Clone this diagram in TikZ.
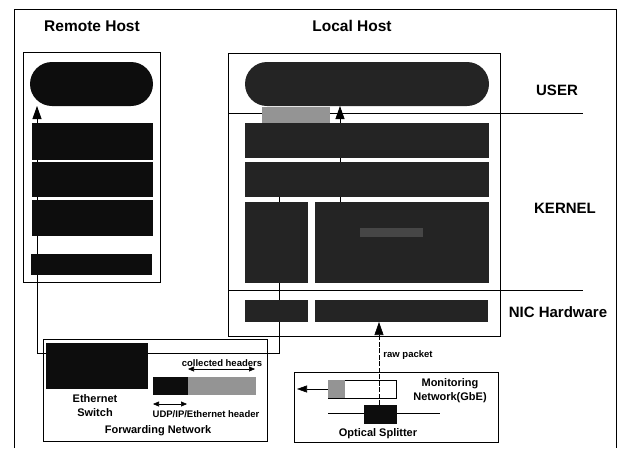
\documentclass[tikz,border=0pt]{standalone}
\usepackage{fontspec}
\setmainfont{Liberation Sans}
\usetikzlibrary{arrows.meta,shapes.misc,backgrounds}
\definecolor{blk}{gray}{0.05}
\definecolor{dk}{gray}{0.14}
\definecolor{md}{gray}{0.58}
\tikzset{
  blk/.style={rectangle,fill=blk,draw=none,inner sep=0pt,outer sep=0pt,anchor=north west},
  dkbox/.style={rectangle,fill=dk,draw=none,inner sep=0pt,outer sep=0pt,anchor=north west},
  frame/.style={rectangle,draw=black,line width=0.8pt,fill=none,inner sep=0pt,outer sep=0pt,anchor=north west},
  pill/.style={rounded rectangle,inner sep=0pt,outer sep=0pt,anchor=north,draw=none},
  bigl/.style={font=\fontsize{15}{17}\selectfont\bfseries,inner sep=0pt},
  smalll/.style={font=\fontsize{9.5}{11}\selectfont\bfseries,inner sep=0pt},
  midl/.style={font=\fontsize{11}{13}\selectfont\bfseries,inner sep=0pt,align=center},
  ln/.style={line width=0.8pt},
  tip/.style={-{Triangle[length=13pt,width=9pt]}},
  stip/.style={{Triangle[length=6pt,width=5pt]}-{Triangle[length=6pt,width=5pt]}},
}
\begin{document}
\begin{tikzpicture}[x=1pt,y=-1pt]
\useasboundingbox (0,0) rectangle (619,448);
% outer frame
\draw[ln] (14,448) -- (14,9) -- (616,9) -- (616,448);
% titles
\node[bigl,font=\fontsize{15.5}{17}\selectfont\bfseries] (trem) at (92,26) {Remote Host};
\node[bigl,font=\fontsize{15.5}{17}\selectfont\bfseries] (tloc) at (352,26) {Local Host};
% remote host
\node[frame,minimum width=137pt,minimum height=230pt] (rbox) at (23,52) {};
\node[pill,fill=blk,minimum width=123pt,minimum height=44pt] (rpill) at (91.5,62) {};
\node[blk,minimum width=121pt,minimum height=37pt] (r1) at (32,123) {};
\node[blk,minimum width=121pt,minimum height=35pt] (r2) at (32,162) {};
\node[blk,minimum width=121pt,minimum height=36pt] (r3) at (32,200) {};
\node[blk,minimum width=121pt,minimum height=21pt] (r4) at (31,254) {};
% local host
\node[frame,minimum width=272pt,minimum height=283pt] (lbox) at (228,53) {};
\node[pill,fill=dk,minimum width=244pt,minimum height=44pt] (lpill) at (367,62) {};
\coordinate (sepA) at (228,113);
\coordinate (sepAe) at (583,113);
\coordinate (sepB) at (228,290);
\coordinate (sepBe) at (583,290);
\node[dkbox,fill=md,minimum width=68pt,minimum height=17pt] (gq) at (262,107) {};
\node[dkbox,minimum width=244pt,minimum height=35pt] (k1) at (245,123) {};
\node[dkbox,minimum width=244pt,minimum height=35pt] (k2) at (245,162) {};
\node[dkbox,minimum width=63pt,minimum height=81pt] (k3l) at (245,202) {};
\node[dkbox,minimum width=174pt,minimum height=81pt] (k3r) at (315,202) {};
\node[dkbox,fill=gray!55!black,minimum width=63pt,minimum height=9pt] (kp) at (360,228) {};
\node[dkbox,minimum width=63pt,minimum height=22pt] (n1) at (245,300) {};
\node[dkbox,minimum width=173pt,minimum height=22pt] (n2) at (315,300) {};
% layer labels
\node[bigl] (luser) at (557,90) {USER};
\node[bigl] (lkern) at (565,208) {KERNEL};
\node[bigl] (lnic) at (558,312) {NIC Hardware};
% forwarding network
\node[frame,minimum width=224pt,minimum height=102pt] (fbox) at (43,339) {};
\node[blk,minimum width=102pt,minimum height=46pt] (sw) at (46,343) {};
\node[blk,minimum width=35pt,minimum height=18pt] (hb) at (153,377) {};
\node[blk,fill=md,minimum width=68pt,minimum height=18pt] (hg) at (188,377) {};
\node[midl] (swl) at (95,406) {Ethernet\\[1pt]Switch};
\node[smalll] (colh) at (222,363) {collected headers};
\node[smalll] (udph) at (206,414) {UDP/IP/Ethernet header};
\node[midl] (fwl) at (158,431) {Forwarding Network};
\coordinate (ca) at (188,369);
\coordinate (cb) at (255,369);
\draw[line width=0.6pt,stip] (ca) -- (cb);
\coordinate (ua1) at (153,404);
\coordinate (ua2) at (187,404);
\draw[line width=0.6pt,stip] (ua1) -- (ua2);
% monitoring network
\node[frame,minimum width=204pt,minimum height=70pt] (mbox) at (294,372) {};
\node[frame,fill=white,line width=0.6pt,minimum width=68pt,minimum height=18pt] (wr) at (328,380) {};
\node[blk,fill=md,minimum width=17pt,minimum height=18pt] (wg) at (328,380) {};
\node[blk,minimum width=33pt,minimum height=19pt] (spl) at (364,405) {};
\coordinate (s1) at (328,413);
\coordinate (s2) at (440,413);
\draw[line width=0.6pt] (s1) -- (spl.west |- s1);
\draw[line width=0.6pt] (spl.east |- s2) -- (s2);
\coordinate (ma) at (297,389);
\draw[line width=0.6pt,-{Triangle[length=10pt,width=7pt]}] (wr.west) -- (ma);
\node[midl] (monl) at (450,391) {Monitoring\\[1pt]Network(GbE)};
\node[midl] (optl) at (378,434) {Optical Splitter};
\coordinate (rp) at (379,405);
\draw[line width=0.6pt,dash pattern=on 5pt off 1.5pt,tip] (rp) -- (rp |- n2.south);
\node[smalll] (rawl) at (408,355) {raw packet};
% lines behind the boxes
\begin{pgfonlayer}{background}
\draw[line width=0.6pt] (sepA) -- (sepAe);
\draw[line width=0.6pt] (sepB) -- (sepBe);
\coordinate (ua) at (340,202);
\draw[ln,tip] (ua) -- (ua |- lpill.south);
\coordinate (p1) at (279,353);
\coordinate (p2) at (37,353);
\draw[ln,tip] (k2.south -| p1) -- (p1) -- (p2) -- (p2 |- rpill.south);
\end{pgfonlayer}
\end{tikzpicture}
\end{document}
